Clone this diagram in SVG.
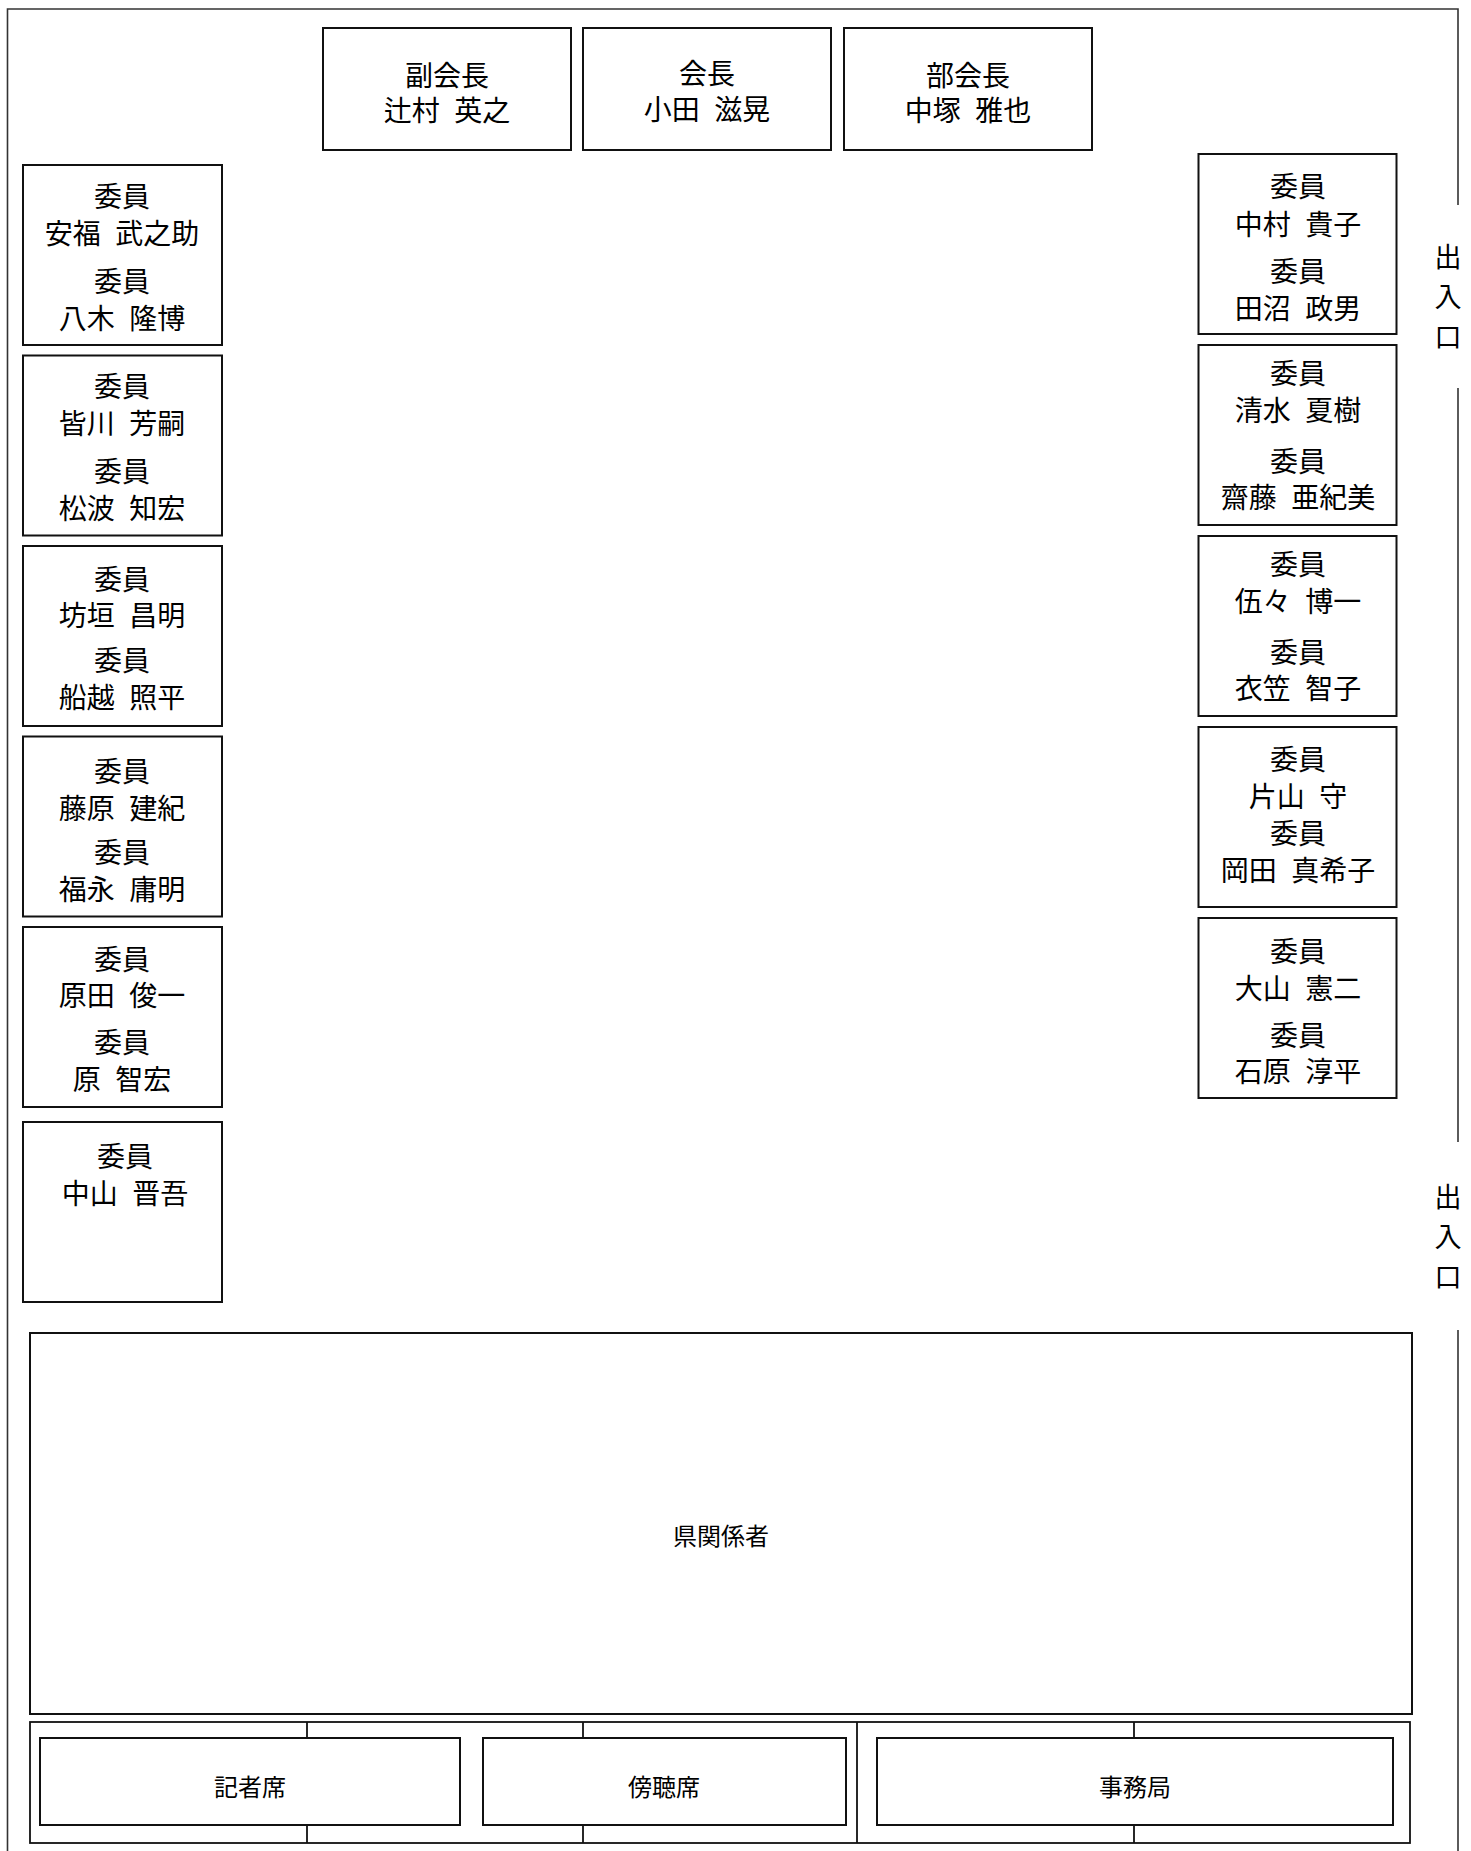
<svg xmlns="http://www.w3.org/2000/svg" width="1471" height="1851" viewBox="0 0 1471 1851">
<style>
  .wall { fill: none; stroke: #333; stroke-width: 1.6; }
  .box { fill: #fff; stroke: #111; stroke-width: 2; }
  .thin { fill: none; stroke: #111; stroke-width: 1.8; }
  text { font-family: "Noto Sans CJK JP", "Noto Sans CJK SC", sans-serif; font-size: 28px; fill: #000; text-anchor: middle; dominant-baseline: central; word-spacing: 8px; }
  .lbl { font-size: 24px; }
  .door { font-size: 27px; }
</style>
<rect width="1471" height="1851" fill="#fff"/>

<g id="walls">
  <polyline class="wall" points="7.5,1851 7.5,9 1458,9 1458,205"/>
  <line class="wall" x1="1458" y1="388" x2="1458" y2="1142"/>
  <line class="wall" x1="1458" y1="1330" x2="1458" y2="1851"/>
</g>

<g id="door1">
  <text class="door" x="1448" y="255">出</text>
  <text class="door" x="1448" y="295">入</text>
  <text class="door" x="1448" y="335">口</text>
</g>
<g id="door2">
  <text class="door" x="1448" y="1195">出</text>
  <text class="door" x="1448" y="1235">入</text>
  <text class="door" x="1448" y="1275">口</text>
</g>

<g id="vice-chair">
  <rect class="box" x="323" y="28" width="248" height="122"/>
  <text x="447" y="74">副会長</text>
  <text x="447" y="109">辻村 英之</text>
</g>
<g id="chair">
  <rect class="box" x="583" y="28" width="248" height="122"/>
  <text x="707" y="72">会長</text>
  <text x="707" y="108">小田 滋晃</text>
</g>
<g id="section-chair">
  <rect class="box" x="844" y="28" width="248" height="122"/>
  <text x="968" y="74">部会長</text>
  <text x="968" y="109">中塚 雅也</text>
</g>

<g id="left1">
  <rect class="box" x="23" y="165" width="199" height="180"/>
  <text x="122" y="195">委員</text>
  <text x="122" y="232">安福 武之助</text>
  <text x="122" y="280">委員</text>
  <text x="122" y="317">八木 隆博</text>
</g>
<g id="left2">
  <rect class="box" x="23" y="355.5" width="199" height="180"/>
  <text x="122" y="385">委員</text>
  <text x="122" y="422">皆川 芳嗣</text>
  <text x="122" y="470">委員</text>
  <text x="122" y="507">松波 知宏</text>
</g>
<g id="left3">
  <rect class="box" x="23" y="546" width="199" height="180"/>
  <text x="122" y="578">委員</text>
  <text x="122" y="614">坊垣 昌明</text>
  <text x="122" y="659">委員</text>
  <text x="122" y="696">船越 照平</text>
</g>
<g id="left4">
  <rect class="box" x="23" y="736.5" width="199" height="180"/>
  <text x="122" y="770">委員</text>
  <text x="122" y="807">藤原 建紀</text>
  <text x="122" y="851">委員</text>
  <text x="122" y="888">福永 庸明</text>
</g>
<g id="left5">
  <rect class="box" x="23" y="927" width="199" height="180"/>
  <text x="122" y="958">委員</text>
  <text x="122" y="994">原田 俊一</text>
  <text x="122" y="1041">委員</text>
  <text x="122" y="1078">原 智宏</text>
</g>
<g id="left6">
  <rect class="box" x="23" y="1122" width="199" height="180"/>
  <text x="125" y="1155">委員</text>
  <text x="125" y="1192">中山 晋吾</text>
</g>

<g id="right1">
  <rect class="box" x="1198.5" y="154" width="198" height="180"/>
  <text x="1298" y="185">委員</text>
  <text x="1298" y="223">中村 貴子</text>
  <text x="1298" y="270">委員</text>
  <text x="1298" y="307">田沼 政男</text>
</g>
<g id="right2">
  <rect class="box" x="1198.5" y="345" width="198" height="180"/>
  <text x="1298" y="372">委員</text>
  <text x="1298" y="409">清水 夏樹</text>
  <text x="1298" y="460">委員</text>
  <text x="1298" y="496">齋藤 亜紀美</text>
</g>
<g id="right3">
  <rect class="box" x="1198.5" y="536" width="198" height="180"/>
  <text x="1298" y="563">委員</text>
  <text x="1298" y="600">伍々 博一</text>
  <text x="1298" y="651">委員</text>
  <text x="1298" y="687">衣笠 智子</text>
</g>
<g id="right4">
  <rect class="box" x="1198.5" y="727" width="198" height="180"/>
  <text x="1298" y="758">委員</text>
  <text x="1298" y="795">片山 守</text>
  <text x="1298" y="832">委員</text>
  <text x="1298" y="869">岡田 真希子</text>
</g>
<g id="right5">
  <rect class="box" x="1198.5" y="918" width="198" height="180"/>
  <text x="1298" y="950">委員</text>
  <text x="1298" y="987">大山 憲二</text>
  <text x="1298" y="1034">委員</text>
  <text x="1298" y="1070">石原 淳平</text>
</g>

<g id="prefecture">
  <rect class="box" x="30" y="1333" width="1382" height="381" stroke-width="2.4"/>
  <text class="lbl" x="721" y="1534">県関係者</text>
</g>

<g id="bottom-area">
  <rect class="thin" x="30" y="1722" width="1380" height="121"/>
  <line class="thin" x1="857" y1="1722" x2="857" y2="1843"/>
  <line class="thin" x1="307" y1="1722" x2="307" y2="1738"/>
  <line class="thin" x1="307" y1="1825" x2="307" y2="1843"/>
  <line class="thin" x1="583" y1="1722" x2="583" y2="1738"/>
  <line class="thin" x1="583" y1="1825" x2="583" y2="1843"/>
  <line class="thin" x1="1134" y1="1722" x2="1134" y2="1738"/>
  <line class="thin" x1="1134" y1="1825" x2="1134" y2="1843"/>
</g>
<g id="press">
  <rect class="box" x="40" y="1738" width="420" height="87"/>
  <text class="lbl" x="250" y="1785">記者席</text>
</g>
<g id="gallery">
  <rect class="box" x="483" y="1738" width="363" height="87"/>
  <text class="lbl" x="664" y="1785">傍聴席</text>
</g>
<g id="secretariat">
  <rect class="box" x="877" y="1738" width="516" height="87"/>
  <text class="lbl" x="1135" y="1785">事務局</text>
</g>
</svg>
